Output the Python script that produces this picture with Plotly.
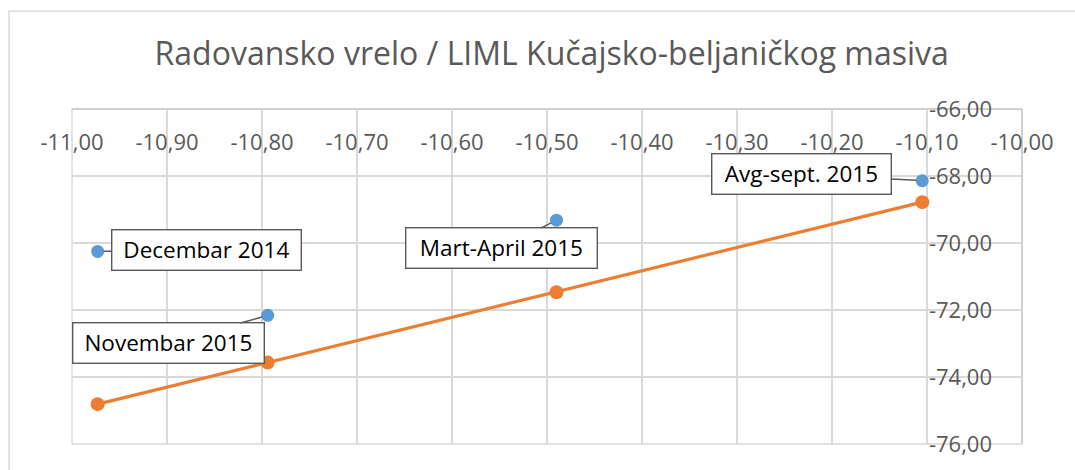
import plotly.graph_objects as go

# δ18O (‰) for each sampling campaign
d18o = [-10.973, -10.794, -10.490, -10.105]
# measured δD (‰)
dd_measured = [-70.25, -72.16, -69.32, -68.14]
# δD on the local meteoric water line (LIML)
dd_liml = [-74.81, -73.57, -71.47, -68.78]
campaigns = ["Decembar 2014", "Novembar 2015", "Mart-April 2015", "Avg-sept. 2015"]

x_ticks = [-11.0, -10.9, -10.8, -10.7, -10.6, -10.5, -10.4, -10.3, -10.2, -10.1, -10.0]
y_ticks = [-76, -74, -72, -70, -68, -66]

title_text = "Radovansko vrelo / LIML Kučajsko-beljaničkog masiva"

FONT = "Open Sans"
GREY_TXT = "#595959"
GRID = "#D9D9D9"

# callout box offsets (px) relative to each point, and box widths
callout_offsets = [(109, -1), (-99, 28), (-55, 28), (-121, -7)]
callout_widths = [180, 182, 182, 170]

fig = go.Figure()

fig.add_trace(go.Scatter(
    x=d18o, y=dd_measured, mode="markers",
    marker=dict(color="#5B9BD5", size=13, line=dict(width=0)),
    showlegend=False, hoverinfo="x+y",
))
fig.add_trace(go.Scatter(
    x=d18o, y=dd_liml, mode="lines+markers",
    line=dict(color="#ED7D31", width=3.2),
    marker=dict(color="#ED7D31", size=14, line=dict(width=0)),
    showlegend=False, hoverinfo="x+y",
))

for name, xv, yv, (ax, ay), w in zip(campaigns, d18o, dd_measured, callout_offsets, callout_widths):
    fig.add_annotation(
        x=xv, y=yv, xref="x", yref="y", text=name,
        showarrow=True, arrowhead=0, arrowwidth=1.5, arrowcolor=GREY_TXT,
        ax=ax, ay=ay, standoff=6, startstandoff=0,
        font=dict(family=FONT, size=22.5, color="#000000"),
        bgcolor="#FFFFFF", bordercolor=GREY_TXT, borderwidth=1.4,
        borderpad=4, width=w,
    )

fig.update_layout(
    width=1075, height=470,
    margin=dict(l=72, r=53, t=109, b=24),
    paper_bgcolor="#FFFFFF", plot_bgcolor="#FFFFFF",
    title=dict(
        text=title_text, x=0.5132, xanchor="center", y=0.885, yanchor="middle",
        font=dict(family=FONT, size=32, color=GREY_TXT),
    ),
    xaxis=dict(
        range=[-11, -10], tickmode="array", tickvals=x_ticks,
        ticktext=[f"{v:.2f}".replace(".", ",") for v in x_ticks],
        showgrid=True, gridcolor=GRID, gridwidth=1.5, zeroline=False,
        showline=False, ticks="", side="bottom", anchor="free", position=0.947,
        tickfont=dict(family=FONT, size=22, color=GREY_TXT),
    ),
    yaxis=dict(
        range=[-76, -66], tickmode="array", tickvals=y_ticks,
        ticktext=[f"{v:.2f}".replace(".", ",") for v in y_ticks],
        showgrid=True, gridcolor=GRID, gridwidth=1.5, zeroline=False,
        showline=False, ticks="", side="right", anchor="free", position=0.901,
        tickfont=dict(family=FONT, size=22, color=GREY_TXT),
    ),
    shapes=[
        # plot-area frame
        dict(type="line", xref="paper", yref="paper", x0=0, x1=1, y0=1, y1=1,
             line=dict(color="#BFBFBF", width=1.5), layer="below"),
        dict(type="line", xref="paper", yref="paper", x0=1, x1=1, y0=0, y1=1,
             line=dict(color="#BFBFBF", width=1.5), layer="below"),
        dict(type="line", xref="paper", yref="paper", x0=0, x1=1, y0=0, y1=0,
             line=dict(color=GRID, width=1.5), layer="below"),
        dict(type="line", xref="paper", yref="paper", x0=0, x1=0, y0=0, y1=1,
             line=dict(color=GRID, width=1.5), layer="below"),
        # chart-area border
        dict(type="rect", xref="paper", yref="paper",
             x0=-0.0663, x1=1.2, y0=1.2917, y1=-0.2,
             line=dict(color=GRID, width=1.5), fillcolor="rgba(0,0,0,0)", layer="below"),
    ],
)

fig.write_html("out.html")
